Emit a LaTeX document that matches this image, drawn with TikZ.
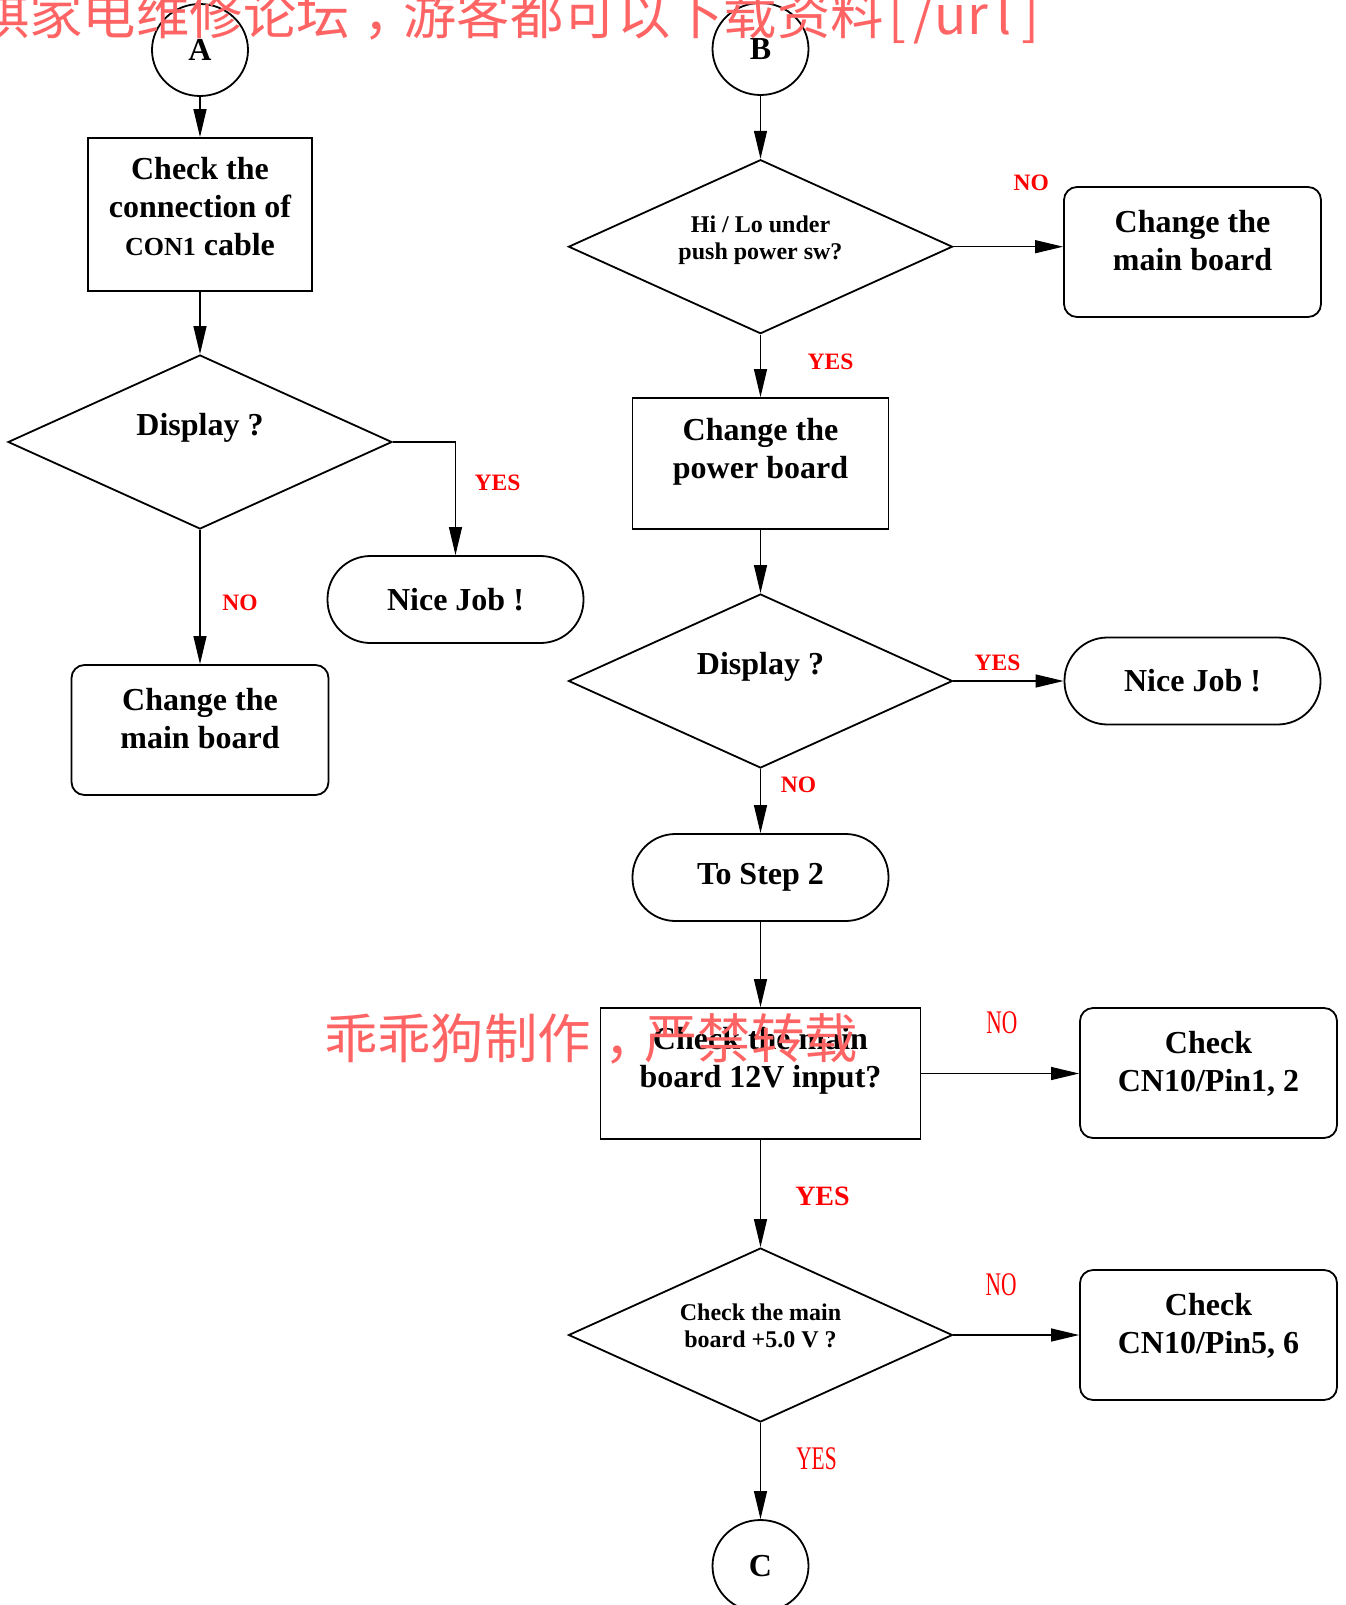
\documentclass[tikz,border=0pt]{standalone}
\usepackage{fontspec}
\setmainfont{Liberation Serif}
\newfontfamily\cjk{Noto Sans CJK SC}
\newfontfamily\narrow[FakeStretch=0.65]{Liberation Serif}
\usetikzlibrary{shapes.geometric,arrows.meta}
\definecolor{wmred}{RGB}{255,100,100}
\newcommand{\hw}[1]{\makebox[0.5em]{#1}}
\newcommand{\wmcomma}{\hspace{0.25em}，\hspace{-0.25em}}

\begin{document}
\begin{tikzpicture}[x=0.5pt,y=-0.5pt,line width=0.6pt,
   >={Triangle[length=14pt,width=6.5pt]},
   font=\bfseries\fontsize{16}{19}\selectfont,
   process/.style={rectangle,draw,line width=0.9pt,align=center,inner sep=0pt,
      minimum width=128pt,minimum height=65.5pt,text depth=15pt},
   terminal/.style={rectangle,draw,line width=0.9pt,rounded corners=6.5pt,align=center,
      inner sep=0pt,minimum width=128.5pt,minimum height=65pt,text depth=11.5pt},
   endcap/.style={rectangle,draw,line width=0.9pt,rounded corners=21.5pt,inner sep=0pt,
      minimum width=128pt,minimum height=43.5pt},
   decision/.style={diamond,aspect=2.2,draw,line width=0.9pt,align=center,inner sep=0pt,
      minimum width=192pt,minimum height=87pt,text depth=17.5pt},
   smalltext/.style={font=\bfseries\fontsize{12}{13.5}\selectfont,text depth=9pt},
   connector/.style={ellipse,draw,line width=0.9pt,inner sep=0pt,
      minimum width=48pt,minimum height=46pt},
   yn/.style={text=red,inner sep=0pt,font=\bfseries\fontsize{11.75}{14}\selectfont},
   ynbig/.style={text=red,inner sep=0pt,font=\bfseries\fontsize{14}{16}\selectfont},
   ynthin/.style={text=red,inner sep=0pt,font=\narrow\fontsize{16.5}{18}\selectfont},
   wm/.style={text=wmred,inner sep=0pt,anchor=base west,font=\cjk\fontsize{26.7}{30}\selectfont}]
   \useasboundingbox (0,0) rectangle (1345,1605);

   \node (A) at (200,50) [connector] {A};
   \node (chk) at (200,214.5) [process,minimum width=112pt,minimum height=76.5pt,text depth=8pt]
      {Check the\\connection of\\{\fontsize{13}{19}\selectfont CON1} cable};
   \node (disp1) at (200,442) [decision] {Display ?};
   \node (nice1) at (455.5,599.5) [endcap] {Nice Job !};
   \node (mb1) at (200,730) [terminal] {Change the\\main board};

   \node (B) at (760.5,49) [connector] {B};
   \node (hilo) at (760.5,246.7) [decision,smalltext] {Hi / Lo under\\push power sw?};
   \node (mb2) at (1192.5,252) [terminal] {Change the\\main board};
   \node (pb) at (760.5,463.5) [process] {Change the\\power board};
   \node (disp2) at (760.5,681) [decision] {Display ?};
   \node (nice2) at (1192.5,681) [endcap] {Nice Job !};
   \node (step2) at (760.5,877.5) [endcap] {To Step 2};
   \node (v12) at (760.5,1073.5) [process,minimum width=160pt,text depth=16pt]
      {Check the main\\board 12V input?};
   \node (cn12) at (1208.5,1073) [terminal] {Check\\CN10/Pin1, 2};
   \node (v5) at (760.5,1335) [decision,smalltext] {Check the main\\board +5.0 V ?};
   \node (cn56) at (1208.5,1335) [terminal] {Check\\CN10/Pin5, 6};
   \node (C) at (760.5,1566) [connector] {C};

   \draw[->] (A) to (chk);
   \draw[->] (chk) to (disp1);
   \draw[->] (disp1.east) -| node[yn,pos=0.68,xshift=21pt] {YES} (nice1);
   \draw[->] (disp1) to node[yn,pos=0.54,xshift=20pt] {NO} (mb1);

   \draw[->] (B) to (hilo);
   \draw[->] (hilo.east) to node[yn,pos=0.71,yshift=32pt] {NO} (hilo.east -| mb2.west);
   \draw[->] (hilo) to node[yn,pos=0.44,xshift=35pt] {YES} (pb);
   \draw[->] (pb) to (disp2);
   \draw[->] (disp2) to node[yn,pos=0.4,yshift=9pt] {YES} (nice2);
   \draw[->] (disp2) to node[yn,pos=0.25,xshift=19pt] {NO} (step2);
   \draw[->] (step2) to (v12);
   \draw[->] (v12.east) to node[ynthin,pos=0.51,yshift=25.5pt] {NO} (v12.east -| cn12.west);
   \draw[->] (v12) to node[ynbig,pos=0.53,xshift=31pt] {YES} (v5);
   \draw[->] (v5) to node[ynthin,pos=0.38,yshift=25pt] {NO} (cn56);
   \draw[->] (v5) to node[ynthin,pos=0.37,xshift=28pt] {YES} (C);

   \node (wmtop) at (-24.4,35) [wm]
      {祺家电维修论坛\wmcomma 游客都可以下载资料\hw{[}\hw{/}\hw{u}\hw{r}\hw{l}\hw{]}};
   \node (wmmid) at (323.5,1058) [wm] {乖乖狗制作\wmcomma 严禁转载};
\end{tikzpicture}
\end{document}
